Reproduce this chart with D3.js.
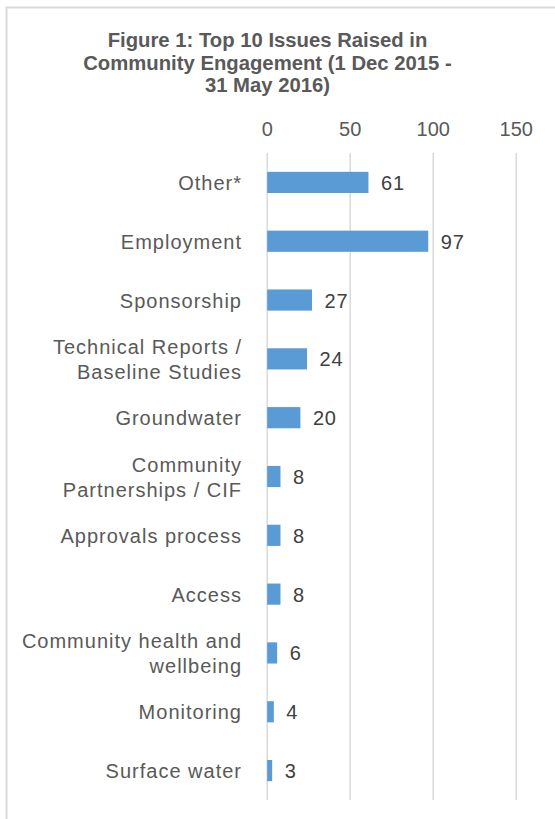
<!DOCTYPE html>
<html>
<head>
<meta charset="utf-8">
<script src="https://cdn.jsdelivr.net/npm/d3@7"></script>
<style>
  body { margin: 0; background: #fff; }
  svg { display: block; font-family: "Liberation Sans", Arial, sans-serif; }
</style>
</head>
<body>
<div id="chart"></div>
<script>
// data
const categories = ["Other*", "Employment", "Sponsorship", "Technical Reports / Baseline Studies",
    "Groundwater", "Community Partnerships / CIF", "Approvals process", "Access",
    "Community health and wellbeing", "Monitoring", "Surface water"];
// how each category label breaks over lines
const labelLines = [["Other*"], ["Employment"], ["Sponsorship"], ["Technical Reports /", "Baseline Studies"],
    ["Groundwater"], ["Community", "Partnerships / CIF"], ["Approvals process"], ["Access"],
    ["Community health and", "wellbeing"], ["Monitoring"], ["Surface water"]];
const values = [61, 97, 27, 24, 20, 8, 8, 8, 6, 4, 3];
const tickValues = [0, 50, 100, 150];
const titleLines = ["Figure 1: Top 10 Issues Raised in", "Community Engagement (1 Dec 2015 -", "31 May 2016)"];

const w = 555;
const h = 819;
const plot = {left: 266.7, right: 515.7, top: 153, bottom: 800};

const svg = d3.select("#chart")
    .append("svg")
        .attr("width", w)
        .attr("height", h);

// outer frame (runs off the right and bottom edge)
svg.append("rect")
    .attr("x", 6.5)
    .attr("y", 7.5)
    .attr("width", 600)
    .attr("height", 900)
    .attr("fill", "none")
    .attr("stroke", "#d9d9d9")
    .attr("stroke-width", 2);

// title
svg.append("text")
    .attr("text-anchor", "middle")
    .attr("font-size", 20.3)
    .attr("font-weight", "bold")
    .attr("fill", "#595959")
    .selectAll("tspan")
    .data(titleLines)
    .enter()
    .append("tspan")
        .attr("x", 267.5)
        .attr("y", (d, i) => 47 + i * 22.5)
        .text(d => d);

const x = d3.scaleLinear()
    .domain([0, 150])
    .range([plot.left, plot.right]);

const y = d3.scaleBand()
    .domain(categories)
    .range([plot.top, plot.bottom])
    .paddingInner(0.64)
    .paddingOuter(0.32);

// gridlines
const grid = svg.append("g")
    .attr("transform", "translate(0," + plot.top + ")")
    .call(d3.axisBottom(x).tickValues(tickValues).tickSize(plot.bottom - plot.top).tickFormat(""));
grid.select(".domain").remove();
grid.selectAll("line")
    .attr("stroke", "#d9d9d9")
    .attr("stroke-width", 1.5);

// tick labels on top
const xAxis = svg.append("g")
    .attr("transform", "translate(0," + plot.top + ")")
    .call(d3.axisTop(x).tickValues(tickValues).tickSize(0).tickPadding(17));
xAxis.select(".domain").remove();
xAxis.selectAll("text")
    .attr("font-family", "Liberation Sans, Arial, sans-serif")
    .attr("font-size", 20)
    .attr("fill", "#595959");

// bars
svg.selectAll("rect.bar")
    .data(values)
    .enter()
    .append("rect")
        .attr("class", "bar")
        .attr("x", x(0) + 0.5)
        .attr("y", (d, i) => y(categories[i]))
        .attr("width", d => x(d) - x(0))
        .attr("height", y.bandwidth())
        .attr("fill", "#5b9bd5");

// value labels
svg.selectAll("text.val")
    .data(values)
    .enter()
    .append("text")
        .attr("class", "val")
        .attr("x", d => x(d) + 13)
        .attr("y", (d, i) => y(categories[i]) + y.bandwidth() / 2 + 7.5)
        .attr("font-size", 20)
        .attr("letter-spacing", 0.8)
        .attr("fill", "#404040")
        .text(d => d);

// category labels
const catLabels = svg.selectAll("text.cat")
    .data(labelLines)
    .enter()
    .append("text")
        .attr("class", "cat")
        .attr("text-anchor", "end")
        .attr("font-size", 20)
        .attr("letter-spacing", 1)
        .attr("fill", "#595959");
catLabels.selectAll("tspan")
    .data((d, i) => d.map((line, j) => ({line: line, j: j, n: d.length, cat: categories[i]})))
    .enter()
    .append("tspan")
        .attr("x", 242)
        .attr("y", d => y(d.cat) + y.bandwidth() / 2 + 7.5 + (d.j - (d.n - 1) / 2) * 25)
        .text(d => d.line);
</script>
</body>
</html>
